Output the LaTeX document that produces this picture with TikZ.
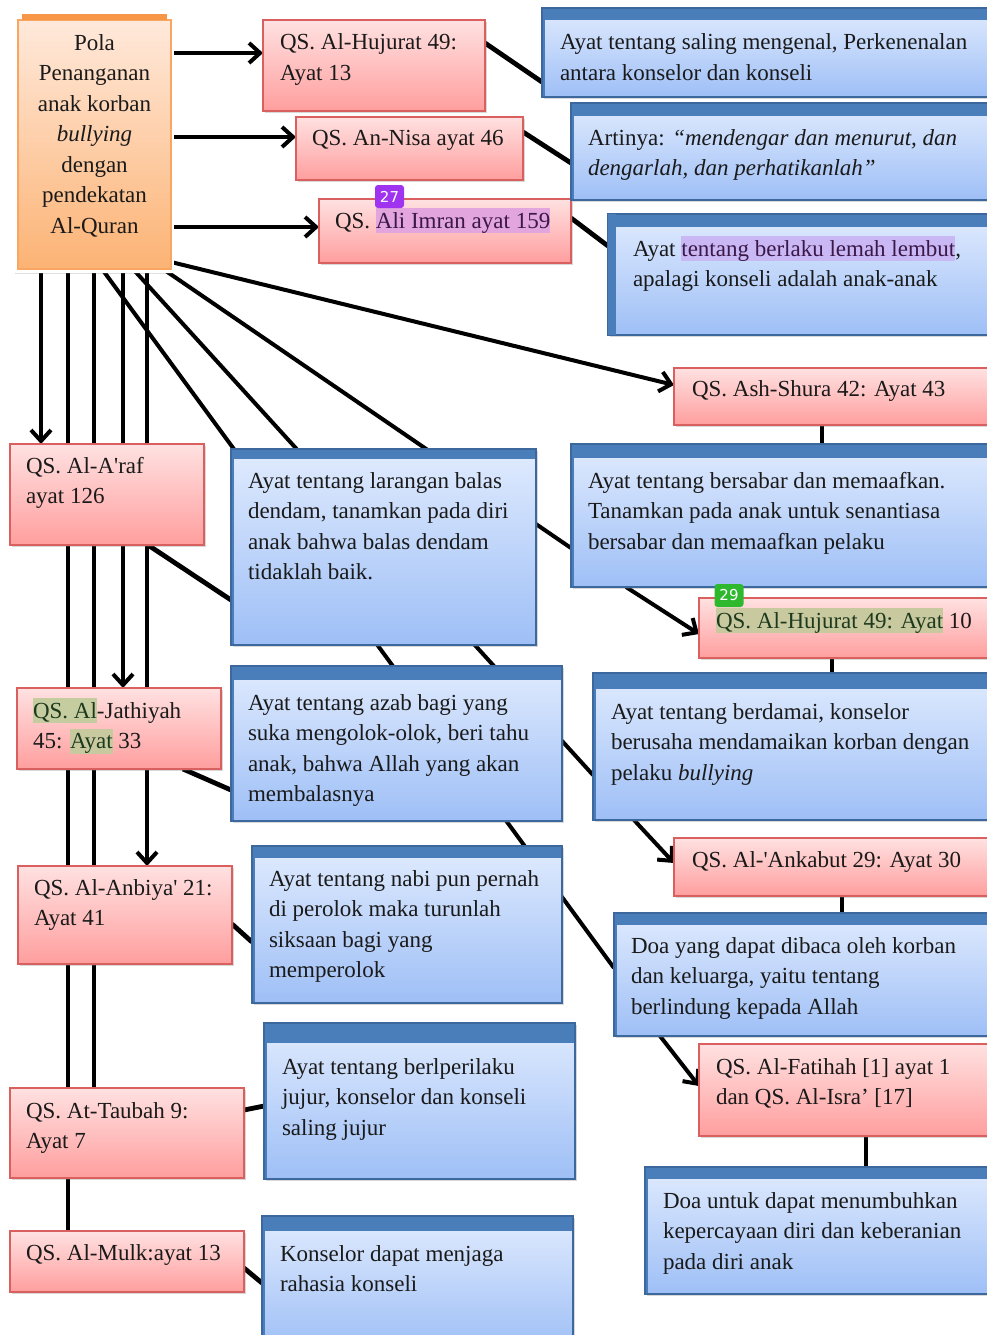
\documentclass[tikz,border=0pt]{standalone}
\usepackage{fontspec}
\setmainfont{Liberation Serif}[Ligatures=TeXOff]
\newfontfamily\badgefont{DejaVu Sans}
\usetikzlibrary{calc,arrows.meta,shadows}
\pgfdeclarelayer{bg}
\pgfsetlayers{bg,main}
\definecolor{redtop}{HTML}{FFE1E1}
\definecolor{redbot}{HTML}{FF9E9E}
\definecolor{redborder}{HTML}{D9605E}
\definecolor{bluetop}{HTML}{E0EBFE}
\definecolor{bluebot}{HTML}{9EBFF6}
\definecolor{blueborder}{HTML}{3C689E}
\definecolor{blueband}{HTML}{4A7EBB}
\definecolor{ortop}{HTML}{FFE9DB}
\definecolor{orbot}{HTML}{FCB374}
\definecolor{orborder}{HTML}{F79646}
\definecolor{hlpurple}{HTML}{E2A5DE}
\definecolor{hllav}{HTML}{CAB8F5}
\definecolor{hlolive}{HTML}{C9C9A0}
\definecolor{hlgreen}{HTML}{C5CCA0}
\definecolor{badgep}{HTML}{A033F0}
\definecolor{badgeg}{HTML}{2EB82E}
\definecolor{textcol}{HTML}{1A1A1A}
\definecolor{hltxtg}{HTML}{1E3A1E}
\definecolor{hltxtp}{HTML}{3A1848}
\newcommand{\hlt}[3]{{\setlength{\fboxsep}{0pt}\colorbox{#1}{\color{#2}\rule[-5pt]{0pt}{25pt}#3}}}
\newcommand{\bx}[6]{\node[#2, minimum width={#5pt-#3pt}, minimum height={#6pt-#4pt}] (#1) at (#3,#4) {};}
\newcommand{\tx}[4]{\node[txt] (#1) at (#2,#3-20) {\rule{0pt}{20pt}#4};}
\tikzset{
 box/.style={anchor=north west, inner sep=0pt, outer sep=0pt, line width=1.2pt},
 shad/.style={drop shadow={shadow xshift=2pt, shadow yshift=-2pt, opacity=0.3}},
 redbox/.style={box, shad, draw=redborder, top color=redtop, bottom color=redbot},
 bluebox/.style={box, shad, draw=blueborder, top color=bluetop, bottom color=bluebot,
   path picture={\fill[blueband] (path picture bounding box.north west) rectangle ([yshift=-#1]path picture bounding box.north east);
   \fill[blueband] (path picture bounding box.north west) rectangle ([xshift=3pt]path picture bounding box.south west);}},
 txt/.style={anchor=north west, inner sep=0pt, outer sep=0pt, align=left, font=\fontsize{23}{30.5}\selectfont, text=textcol},
 conn/.style={line width=4pt, black},
 thick conn/.style={line width=4.8pt, black},
 arr/.style={conn, -{Straight Barb[length=11pt,width=20pt]}},
 badge/.style={rounded corners=3pt, inner sep=0pt, minimum width=29pt, minimum height=23pt, text=white, font=\badgefont\fontsize{15}{15}\selectfont},
}
\begin{document}
\begin{tikzpicture}[x=1pt,y=-1pt]
\begin{pgfonlayer}{bg}
\fill[white] (0,0) rectangle (986,1335);
\end{pgfonlayer}
\useasboundingbox (0,0) rectangle (986,1335);

% main box
\node[anchor=north west, fill=white, inner sep=0pt, outer sep=0pt, minimum width=159pt, minimum height=265pt,
  drop shadow={shadow xshift=0pt, shadow yshift=-1pt, opacity=0.25}] (frame) at (15,8) {};
\node[box, draw=orborder!85, top color=ortop, bottom color=orbot, minimum width=153pt, minimum height=249pt] (pola) at (18,20) {};
\fill[orborder] ($(pola.north west)+(4,-6)$) rectangle ($(pola.north east)+(-4,0)$);

% red boxes
\bx{hj13}{redbox}{263}{20}{485}{111}
\bx{nisa}{redbox}{296}{117}{523}{180}
\bx{imran}{redbox}{319}{199}{571}{263}
\bx{shura}{redbox}{674}{368}{1000}{425}
\bx{hjten}{redbox}{699}{598}{1000}{658}
\bx{ankabut}{redbox}{674}{838}{1000}{896}
\bx{fatihah}{redbox}{699}{1044}{1000}{1136}
\bx{araf}{redbox}{10}{444}{204}{545}
\bx{jathiyah}{redbox}{17}{688}{221}{769}
\bx{anbiya}{redbox}{18}{866}{232}{964}
\bx{taubah}{redbox}{10}{1088}{244}{1178}
\bx{mulk}{redbox}{10}{1231}{244}{1292}

% blue boxes
\bx{ayat1}{bluebox=12pt}{542}{8}{1000}{97}
\bx{artinya}{bluebox=13pt}{571}{103}{1000}{200}
\bx{lembut}{bluebox=13pt}{608}{214}{1000}{335}
\fill[blueband] (lembut.north west) rectangle ($(lembut.south west)+(8,0)$);
\bx{larangan}{bluebox=10pt}{231}{449}{536}{645}
\bx{bersabar}{bluebox=14pt}{571}{444}{1000}{587}
\bx{azab}{bluebox=14pt}{231}{666}{562}{821}
\bx{berdamai}{bluebox=16pt}{593}{673}{1000}{820}
\bx{nabi}{bluebox=12pt}{252}{846}{562}{1003}
\bx{doaa}{bluebox=12pt}{614}{913}{1000}{1036}
\bx{jujur}{bluebox=20pt}{264}{1023}{575}{1179}
\bx{doab}{bluebox=12pt}{645}{1167}{1000}{1294}
\bx{rahasia}{bluebox=15pt}{262}{1216}{573}{1350}

% texts
\node[txt, anchor=north, align=center] (tpola) at (94.5,30) {\rule{0pt}{20pt}Pola\\Penanganan\\anak korban\\\textit{bullying}\\dengan\\pendekatan\\Al-Quran};
\tx{thj13}{280}{50}{QS. Al-Hujurat 49:\\Ayat 13}
\tx{tnisa}{312}{146}{QS. An-Nisa ayat 46}
\tx{timran}{335}{228}{QS. \hlt{hlpurple}{hltxtp}{Ali Imran ayat 159}}
\tx{tayat1}{560}{50}{Ayat tentang saling mengenal, Perkenenalan\\antara konselor dan konseli}
\tx{tartinya}{588}{145}{Artinya: \textit{“mendengar dan menurut, dan}\\\textit{dengarlah, dan perhatikanlah”}}
\tx{tlembut}{633}{256}{Ayat \hlt{hllav}{hltxtp}{tentang berlaku lemah lembut},\\apalagi konseli adalah anak-anak}
\tx{tshura}{692}{396}{QS. Ash-Shura 42: Ayat 43}
\tx{taraf}{26}{473}{QS. Al-A'raf\\ayat 126}
\tx{tlarangan}{248}{488}{Ayat tentang larangan balas\\dendam, tanamkan pada diri\\anak bahwa balas dendam\\tidaklah baik.}
\tx{tbersabar}{588}{488}{Ayat tentang bersabar dan memaafkan.\\Tanamkan pada anak untuk senantiasa\\bersabar dan memaafkan pelaku}
\tx{thjten}{716}{628}{\hlt{hlolive}{hltxtg}{QS. Al-Hujurat 49: Ayat} 10}
\tx{tjathiyah}{33}{718}{\hlt{hlgreen}{hltxtg}{QS. Al}-Jathiyah\\45: \hlt{hlolive}{hltxtg}{Ayat} 33}
\tx{tazab}{248}{710}{Ayat tentang azab bagi yang\\suka mengolok-olok, beri tahu\\anak, bahwa Allah yang akan\\membalasnya}
\tx{tberdamai}{611}{719}{Ayat tentang berdamai, konselor\\berusaha mendamaikan korban dengan\\pelaku \textit{bullying}}
\tx{tankabut}{692}{867}{QS. Al-'Ankabut 29: Ayat 30}
\tx{tanbiya}{34}{895}{QS. Al-Anbiya' 21:\\Ayat 41}
\tx{tnabi}{269}{886}{Ayat tentang nabi pun pernah\\di perolok maka turunlah\\siksaan bagi yang\\memperolok}
\tx{tdoaa}{631}{953}{Doa yang dapat dibaca oleh korban\\dan keluarga, yaitu tentang\\berlindung kepada Allah}
\tx{tfatihah}{716}{1074}{QS. Al-Fatihah [1] ayat 1\\dan QS. Al-Isra’ [17]}
\tx{ttaubah}{26}{1118}{QS. At-Taubah 9:\\Ayat 7}
\tx{tjujur}{282}{1074}{Ayat tentang berlperilaku\\jujur, konselor dan konseli\\saling jujur}
\tx{tdoab}{663}{1208}{Doa untuk dapat menumbuhkan\\kepercayaan diri dan keberanian\\pada diri anak}
\tx{tmulk}{26}{1260}{QS. Al-Mulk:ayat 13}
\tx{trahasia}{280}{1261}{Konselor dapat menjaga\\rahasia konseli}

% badges
\node[badge, fill=badgep] (b27) at (389.5,196.5) {27};
\node[badge, fill=badgeg] (b29) at (729,595.5) {29};

% connectors
\begin{pgfonlayer}{bg}
\draw[arr] ($(pola.north east)+(0,33)$) -- ($(hj13.north west)+(0,33)$);
\draw[arr] ($(pola.north east)+(0,117)$) -- ($(nisa.north west)+(0,20)$);
\draw[arr] ($(pola.north east)+(0,207)$) -- ($(imran.north west)+(0,28)$);
\draw[arr] ($(pola.south east)+(0,-7)$) -- ($(shura.north west)+(0,17)$);
\draw[arr] ($(pola.south west)+(23,0)$) -- ($(araf.north west)+(31,0)$);
\draw[conn] ($(pola.south west)+(50,0)$) -- ($(mulk.north west)+(58,0)$);
\draw[conn] ($(pola.south west)+(76,0)$) -- ($(taubah.north west)+(84,0)$);
\draw[arr] ($(pola.south west)+(105,0)$) -- ($(jathiyah.north west)+(106,0)$);
\draw[arr] ($(pola.south west)+(129,0)$) -- ($(anbiya.north west)+(129,0)$);
\draw[conn] ($(pola.south west)+(84,0)$) -- ($(doaa.north west)+(0,55)$);
\draw[conn] ($(pola.south west)+(115,0)$) -- ($(berdamai.north west)+(0,102)$);
\draw[conn] ($(pola.south west)+(145,0)$) -- ($(bersabar.north west)+(0,104)$);
% right column
\draw[thick conn] ($(hj13.north east)+(0,23)$) -- ($(ayat1.south west)+(0,-15)$);
\draw[thick conn] ($(nisa.north east)+(0,15)$) -- ($(artinya.north west)+(0,60)$);
\draw[thick conn] ($(imran.north east)+(0,19)$) -- ($(lembut.north west)+(0,32)$);
\draw[thick conn] ($(shura.south west)+(148,0)$) -- ($(bersabar.north west)+(251,0)$);
\draw[arr] ($(bersabar.south west)+(55,0)$) -- ($(hjten.north west)+(0,36)$);
\draw[thick conn] ($(hjten.south west)+(133,0)$) -- ($(berdamai.north west)+(239,0)$);
\draw[arr] ($(berdamai.south west)+(41,0)$) -- ($(ankabut.north west)+(0,25)$);
\draw[thick conn] ($(ankabut.south west)+(168,0)$) -- ($(doaa.north west)+(228,0)$);
\draw[arr] ($(doaa.south west)+(46,0)$) -- ($(fatihah.north west)+(0,42)$);
\draw[thick conn] ($(fatihah.south west)+(167,0)$) -- ($(doab.north west)+(221,0)$);
% left column
\draw[thick conn] ($(araf.south west)+(138,0)$) -- ($(larangan.north west)+(0,151)$);
\draw[thick conn] ($(jathiyah.south west)+(166,0)$) -- ($(azab.north west)+(0,124)$);
\draw[thick conn] ($(anbiya.north east)+(0,58)$) -- ($(nabi.north west)+(0,96)$);
\draw[thick conn] ($(taubah.north east)+(0,22)$) -- ($(jujur.north west)+(0,83)$);
\draw[thick conn] ($(mulk.north east)+(0,37)$) -- ($(rahasia.north west)+(0,67)$);
\end{pgfonlayer}
\end{tikzpicture}
\end{document}
